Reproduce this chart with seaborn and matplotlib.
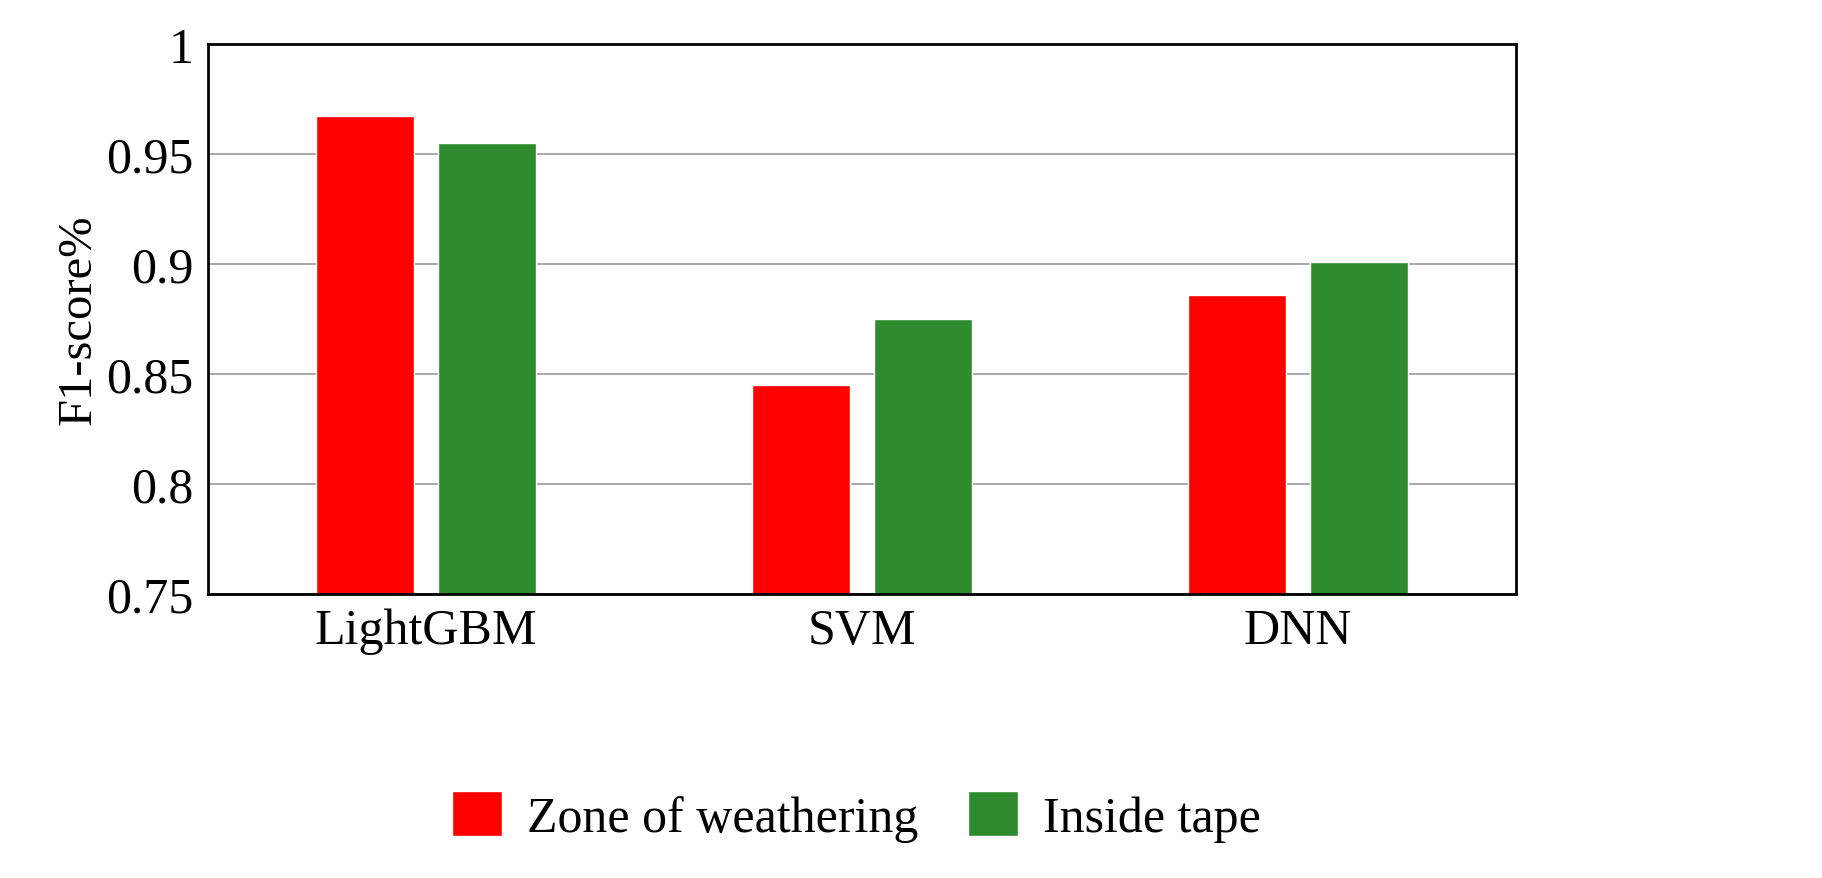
import matplotlib
matplotlib.use("Agg")
import matplotlib.pyplot as plt
import seaborn as sns
import pandas as pd

models = ["LightGBM", "SVM", "DNN"]
zone = [0.967, 0.845, 0.886]
inside = [0.955, 0.875, 0.901]
series = ["Zone of weathering", "Inside tape"]

df = pd.DataFrame({
    "Model": models * 2,
    "Series": [series[0]] * 3 + [series[1]] * 3,
    "F1": zone + inside,
})

sns.set_theme(style="white")
plt.rcParams["font.family"] = ["Liberation Serif", "DejaVu Serif"]
plt.rcParams["text.color"] = "black"
plt.rcParams["axes.labelcolor"] = "black"
plt.rcParams["xtick.color"] = "black"
plt.rcParams["ytick.color"] = "black"

fig = plt.figure(figsize=(18.22, 8.79), dpi=100)
ax = fig.add_axes([0.114, 0.323, 0.718, 0.626])
sns.barplot(data=df, x="Model", y="F1", hue="Series", palette=["#ff0000", "#2e8b2e"],
            saturation=1, width=0.56, gap=0.2, ax=ax, legend=True)
ax.set_ylim(0.75, 1.0)
ax.set_yticks([0.75, 0.8, 0.85, 0.9, 0.95, 1.0])
ax.set_yticklabels(["0.75", "0.8", "0.85", "0.9", "0.95", "1"])
ax.yaxis.grid(True, color="#999999", linewidth=1.2)
ax.set_axisbelow(True)
ax.set_xlabel("")
ax.set_ylabel("F1-score%", fontsize=35)
ax.tick_params(axis="both", labelsize=36, length=0, pad=10)
for s in ax.spines.values():
    s.set_color("black")
    s.set_linewidth(2)
ax.legend_.remove()
h, l = ax.get_legend_handles_labels()
fig.legend(h, l, loc="lower center", bbox_to_anchor=(0.47, -0.01), ncol=2, frameon=False,
           fontsize=36, handlelength=1.0, handleheight=1.0, columnspacing=1.0, handletextpad=0.5)
fig.savefig("out.png", dpi=100)
